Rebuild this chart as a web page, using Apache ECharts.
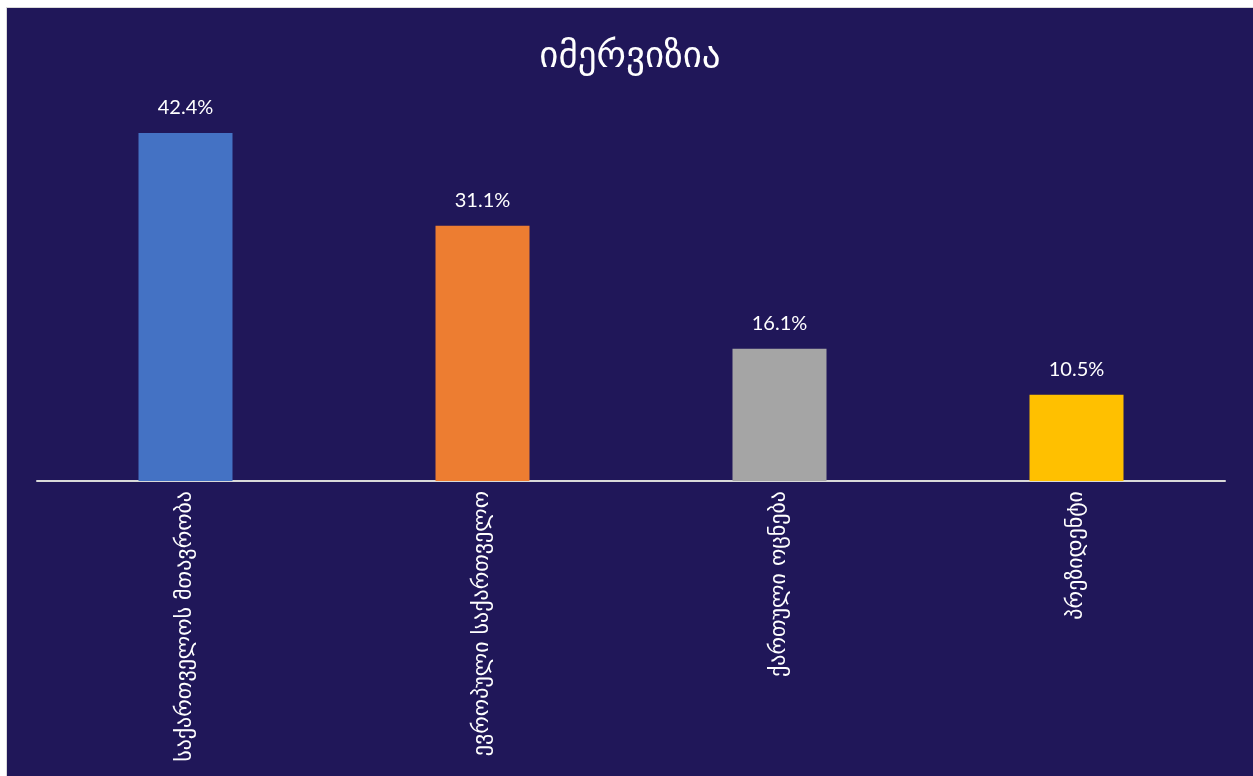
<!DOCTYPE html>
<html>
<head>
<meta charset="utf-8">
<script src="https://cdn.jsdelivr.net/npm/echarts@6/dist/echarts.min.js"></script>
<style>
html,body{margin:0;padding:0;background:#ffffff;width:1253px;height:776px;overflow:hidden;}
#frame{position:absolute;left:6px;top:7px;width:1247px;height:769px;background:#d9d9d9;}
#chart{position:absolute;left:7px;top:8px;width:1246px;height:768px;}
</style>
</head>
<body>
<div id="frame"></div>
<div id="chart"></div>
<script>
const titleText = "იმერვიზია";
const categories = ["საქართველოს მთავრობა", "ევროპული საქართველო", "ქართული ოცნება", "პრეზიდენტი"];
const values = [42.4, 31.1, 16.1, 10.5];
const colors = ["#4472C4", "#ED7D31", "#A5A5A5", "#FFC000"];

const chart = echarts.init(document.getElementById('chart'), null, {renderer: 'canvas'});
chart.setOption({
  backgroundColor: '#201759',
  animation: false,
  title: {
    text: titleText,
    left: 'center',
    top: 26,
    textStyle: {color: '#ffffff', fontSize: 37, fontWeight: 'normal', fontFamily: 'DejaVu Sans'}
  },
  grid: {left: 30, right: 28, top: 103.7, bottom: 295, containLabel: false},
  xAxis: {
    type: 'category',
    data: categories,
    axisLine: {show: true, lineStyle: {color: '#d9d9d9', width: 2}},
    axisTick: {show: false},
    axisLabel: {
      rotate: 90, interval: 0, margin: 10,
      color: '#ffffff', fontSize: 22, fontFamily: 'DejaVu Sans'
    }
  },
  yAxis: {
    type: 'value', min: 0, max: 45,
    show: false, splitLine: {show: false}
  },
  series: [{
    type: 'bar',
    barWidth: 94,
    data: values.map((v, i) => ({value: v, itemStyle: {color: colors[i]}})),
    label: {
      show: true, position: 'top', distance: 15,
      color: '#ffffff', fontSize: 20, fontFamily: 'Lato',
      formatter: p => p.value.toFixed(1) + '%'
    }
  }]
});
</script>
</body>
</html>
